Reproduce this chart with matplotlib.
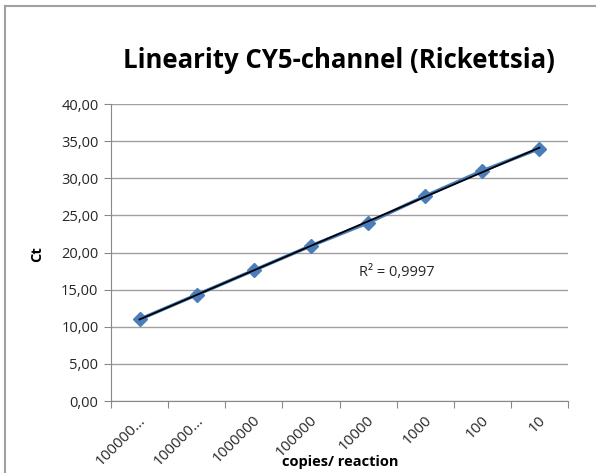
import matplotlib.pyplot as plt
import numpy as np
from matplotlib.lines import Line2D

# data
categories = ["100000...", "100000...", "1000000", "100000", "10000", "1000", "100", "10"]
ct_values = [11.0, 14.3, 17.6, 20.9, 24.0, 27.6, 31.0, 34.0]
y_ticks = [0, 5, 10, 15, 20, 25, 30, 35, 40]
r_squared = "0,9997"

plt.rcParams["font.family"] = ["Open Sans", "DejaVu Sans"]
TXT = "#262626"

fig = plt.figure(figsize=(5.96, 4.73), dpi=100)
W, H = 596, 473
ax = fig.add_axes([111 / W, 1 - 401 / H, (568 - 111) / W, (401 - 104) / H])

x = np.arange(len(categories))
ax.plot(x, ct_values, color="#4a7ebb", lw=2.5, marker="D", ms=7,
        markeredgecolor="#4a7ebb", zorder=3)

# linear trendline
slope, intercept = np.polyfit(x, ct_values, 1)
ax.plot(x, slope * x + intercept, color="black", lw=1.3, zorder=4)

ax.set_xlim(-0.5, len(categories) - 0.5)
ax.set_ylim(0, 40)
ax.set_yticks(y_ticks)
ax.set_yticklabels([f"{v:.2f}".replace(".", ",") for v in y_ticks], fontsize=10.5, color=TXT)
ax.yaxis.grid(True, color="#a0a0a0", lw=1)
ax.set_axisbelow(True)

ax.set_xticks(np.arange(-0.5, len(categories)))
ax.set_xticklabels([])
ax.tick_params(axis="x", length=5, color="#888888", direction="out")
ax.tick_params(axis="y", length=5, color="#888888", direction="out", pad=4)
for i, lab in enumerate(categories):
    ax.text(i - 0.02, -1.6, lab, rotation=45, ha="right", va="top",
            rotation_mode="anchor", fontsize=11, color=TXT)

for s in ["top", "right"]:
    ax.spines[s].set_visible(False)
for s in ["left", "bottom"]:
    ax.spines[s].set_color("#888888")

ax.text(4.5, 17.3, f"R² = {r_squared}", fontsize=10.5, color=TXT, ha="center", va="center")

fig.text(339 / W, 1 - 61 / H, "Linearity CY5-channel (Rickettsia)", fontsize=18.5,
         fontweight="bold", ha="center", va="center")
fig.text(340 / W, 1 - 462 / H, "copies/ reaction", fontsize=10.5, fontweight="bold",
         ha="center", va="center")
fig.text(37 / W, 1 - 254 / H, "Ct", fontsize=10.5, fontweight="bold", rotation=90,
         ha="center", va="center")

# chart frame (top and left edges visible)
fig.add_artist(Line2D([5 / W, 5 / W], [0, 1 - 6 / H], transform=fig.transFigure,
                      color="#a0a0a0", lw=1.5))
fig.add_artist(Line2D([5 / W, 1], [1 - 6 / H, 1 - 6 / H], transform=fig.transFigure,
                      color="#a0a0a0", lw=1.5))

fig.savefig("out.png", dpi=100)
